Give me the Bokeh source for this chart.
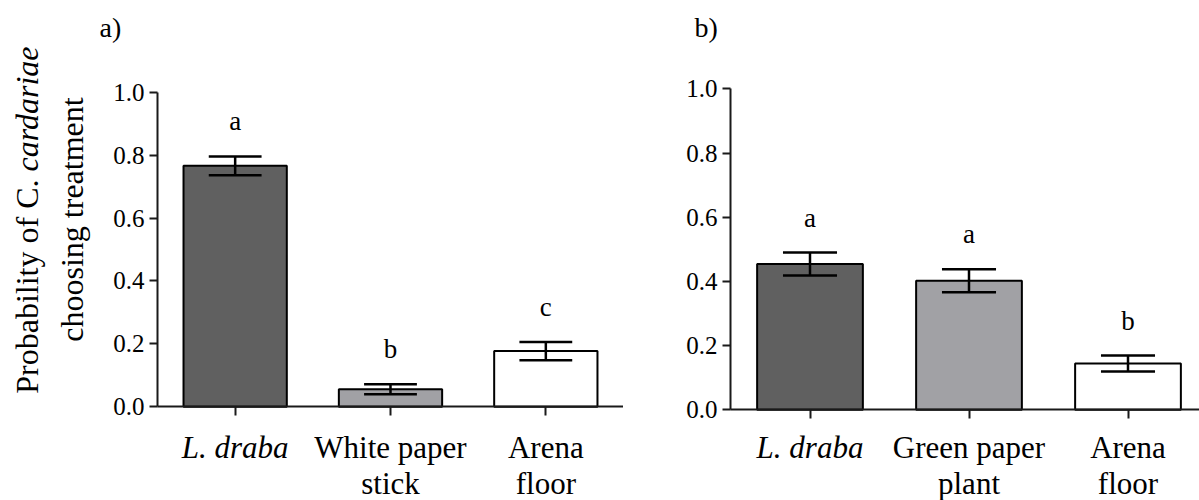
import math
from bokeh.plotting import figure
from bokeh.layouts import row
from bokeh.models import Range1d, FixedTicker, Label, PrintfTickFormatter
from bokeh.embed import file_html
from bokeh.resources import INLINE

# ---- data -------------------------------------------------------------
# panel a: C. cardariae choice between L. draba, white paper stick, arena floor
labels_a = [["L. draba"], ["White paper", "stick"], ["Arena", "floor"]]
italic_a = [True, False, False]
mean_a = [0.766, 0.056, 0.177]
sem_a = [0.030, 0.016, 0.029]
letters_a = ["a", "b", "c"]

# panel b: L. draba vs green paper plant vs arena floor
labels_b = [["L. draba"], ["Green paper", "plant"], ["Arena", "floor"]]
italic_b = [True, False, False]
mean_b = [0.454, 0.402, 0.144]
sem_b = [0.036, 0.036, 0.025]
letters_b = ["a", "a", "b"]

bar_fills = ["#606060", "#a1a1a5", "#ffffff"]
y_ticks = [0.0, 0.2, 0.4, 0.6, 0.8, 1.0]

SERIF = "Liberation Serif"
INK = "#1a1a1a"
H = 500  # canvas height of each panel


def make_panel(tag, labels, italics, means, sems, letters, width,
               axis_x, px_per_cat, y_zero, y_one, tag_x):
    """axis_x: pixel column of the value axis; y_zero / y_one: pixel rows
    of 0.0 and 1.0 (from the top). The frame fills the whole canvas and the
    axes are pinned at x=0 / y=0 so the surrounding texts are not clipped."""
    n = len(means)
    xs = [i + 0.5 for i in range(n)]
    px_per_unit = y_zero - y_one
    x_range = Range1d(-axis_x / px_per_cat, (width - axis_x) / px_per_cat)
    y_range = Range1d(-(H - y_zero) / px_per_unit, 1 + y_one / px_per_unit)
    x_end = min(float(n), (width - axis_x) / px_per_cat)

    p = figure(width=width, height=H, x_range=x_range, y_range=y_range,
               output_backend="svg", toolbar_location=None,
               min_border_left=0, min_border_right=0,
               min_border_top=0, min_border_bottom=0)
    p.outline_line_color = None
    p.xgrid.grid_line_color = None
    p.ygrid.grid_line_color = None
    p.background_fill_color = "white"
    p.border_fill_color = "white"

    # bars
    p.vbar(x=xs, top=means, bottom=0, width=0.665, fill_color=bar_fills,
           line_color="black", line_width=2)

    # error bars (mean +/- SE) with caps
    lo = [m - s for m, s in zip(means, sems)]
    hi = [m + s for m, s in zip(means, sems)]
    cap = 0.17
    p.segment(x0=xs, y0=lo, x1=xs, y1=hi, line_color="black", line_width=2.5)
    p.segment(x0=[x - cap for x in xs], y0=hi, x1=[x + cap for x in xs], y1=hi,
              line_color="black", line_width=2.5)
    p.segment(x0=[x - cap for x in xs], y0=lo, x1=[x + cap for x in xs], y1=lo,
              line_color="black", line_width=2.5)

    # significance letters above the error bars
    for x, h, letter in zip(xs, hi, letters):
        p.add_layout(Label(x=x, y=h, y_offset=35, text=letter,
                           text_align="center", text_baseline="alphabetic",
                           text_font=SERIF, text_font_size="27px",
                           text_color="black"))

    # value axis, pinned at x = 0
    ya = p.yaxis[0]
    ya.fixed_location = 0
    ya.bounds = (0, 1)
    ya.ticker = FixedTicker(ticks=y_ticks, minor_ticks=[])
    ya.formatter = PrintfTickFormatter(format="%.1f")
    ya.axis_line_color = INK
    ya.axis_line_width = 2
    ya.major_tick_line_color = INK
    ya.major_tick_line_width = 2
    ya.major_tick_in = 0
    ya.major_tick_out = 8
    ya.minor_tick_line_color = None
    ya.major_label_standoff = 5
    ya.major_label_text_font = SERIF
    ya.major_label_text_font_size = "25px"
    ya.major_label_text_color = "black"

    # category axis, pinned at y = 0
    xa = p.xaxis[0]
    xa.fixed_location = 0
    xa.bounds = (0, x_end)
    xa.ticker = FixedTicker(ticks=xs, minor_ticks=[])
    xa.major_label_overrides = {x: "" for x in xs}
    xa.axis_line_color = INK
    xa.axis_line_width = 2
    xa.major_tick_line_color = INK
    xa.major_tick_line_width = 2
    xa.major_tick_in = 0
    xa.major_tick_out = 9
    xa.minor_tick_line_color = None

    # category names below the axis (italic for the plant species)
    baselines = [H - 447, H - 483]
    for x, lines, it in zip(xs, labels, italics):
        for k, line in enumerate(lines):
            p.add_layout(Label(x=x, y=baselines[k], y_units="screen", text=line,
                               text_align="center", text_baseline="alphabetic",
                               text_font=SERIF, text_font_size="31px",
                               text_font_style="italic" if it else "normal",
                               text_color="black"))

    # panel tag
    p.add_layout(Label(x=tag_x, y=H - 27, x_units="screen", y_units="screen",
                       text=tag, text_align="left", text_baseline="alphabetic",
                       text_font=SERIF, text_font_size="28px",
                       text_color="black"))
    return p


pa = make_panel("a)", labels_a, italic_a, mean_a, sem_a, letters_a,
                width=623, axis_x=157, px_per_cat=155.33,
                y_zero=406.3, y_one=91.7, tag_x=99)
pb = make_panel("b)", labels_b, italic_b, mean_b, sem_b, letters_b,
                width=576, axis_x=107, px_per_cat=159.0,
                y_zero=409.3, y_one=88.3, tag_x=71)

# two-line y-axis title of panel a, species name in italics
ylab_size = "32px"
pa.add_layout(Label(x=26, y=H - 179, x_units="screen", y_units="screen",
                    text="Probability of C.", angle=math.pi / 2,
                    text_align="right", text_baseline="alphabetic",
                    text_font=SERIF, text_font_size=ylab_size, text_color="black"))
pa.add_layout(Label(x=26, y=H - 171, x_units="screen", y_units="screen",
                    text="cardariae", angle=math.pi / 2,
                    text_align="left", text_baseline="alphabetic",
                    text_font=SERIF, text_font_size=ylab_size,
                    text_font_style="italic", text_color="black"))
pa.add_layout(Label(x=71, y=H - 219, x_units="screen", y_units="screen",
                    text="choosing treatment", angle=math.pi / 2,
                    text_align="center", text_baseline="alphabetic",
                    text_font=SERIF, text_font_size=ylab_size, text_color="black"))

layout = row(pa, pb)
open("out.html", "w").write(file_html(layout, INLINE))
